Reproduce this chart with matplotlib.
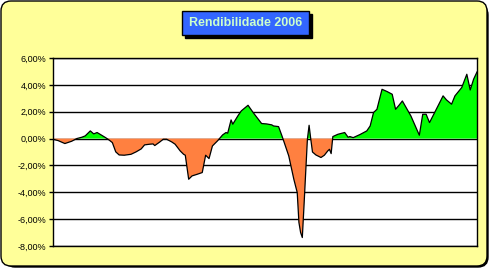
import matplotlib
import matplotlib.pyplot as plt
from matplotlib.patches import FancyBboxPatch, Rectangle
from matplotlib.ticker import FuncFormatter
matplotlib.use('Agg')

# trading day index and accumulated return (%)
days = [0, 3, 7, 11, 14, 17, 19, 22, 24, 26, 28, 31, 33, 35, 37, 39, 42, 46,
        49, 52, 54, 57, 59, 60, 63, 65, 67, 70, 72, 75, 77, 78, 80, 82, 85,
        88, 90, 92, 94, 97, 100, 102, 103, 105, 106, 109, 111, 115, 118, 123,
        126, 129, 130, 133, 135, 136, 139, 142, 144, 145, 146, 147, 148, 149,
        150, 151, 152, 153, 155, 158, 160, 162, 163, 164, 165, 168, 172, 174,
        175, 177, 181, 185, 187, 189, 191, 194, 197, 200, 202, 204, 206, 211,
        216, 218, 220, 222, 227, 230, 232, 235, 237, 241, 244, 246, 248, 250]
rent = [-0.05, -0.15, -0.37, -0.20, 0.00, 0.10, 0.20, 0.57, 0.35, 0.45, 0.30,
        0.07, -0.10, -0.30, -0.99, -1.22, -1.24, -1.17, -0.99, -0.77, -0.47,
        -0.42, -0.40, -0.52, -0.25, -0.05, -0.05, -0.25, -0.42, -0.92, -1.17,
        -1.24, -3.03, -2.78, -2.66, -2.53, -1.24, -1.49, -0.55, -0.17, 0.27,
        0.45, 0.40, 1.39, 1.07, 1.69, 2.06, 2.48, 1.94, 1.12, 1.09, 1.02, 0.94,
        0.89, 0.20, -0.17, -1.29, -3.03, -4.02, -6.25, -7.00, -7.37, -5.00,
        -2.50, -0.05, 0.99, -0.05, -1.00, -1.22, -1.41, -1.24, -0.92, -0.80,
        -1.12, 0.15, 0.32, 0.45, 0.10, 0.15, 0.07, 0.30, 0.57, 0.94, 1.94,
        2.18, 3.67, 3.50, 3.30, 2.18, 2.48, 2.80, 1.69, 0.25, 1.81, 1.81, 1.19,
        2.43, 3.18, 2.88, 2.56, 3.18, 3.80, 4.79, 3.62, 4.42, 4.96]
y_ticks = [-8, -6, -4, -2, 0, 2, 4, 6]
title = "Rendibilidade 2006"

W, H = 493, 272
fig = plt.figure(figsize=(W / 100, H / 100), dpi=100)
fig.patch.set_facecolor('white')

# background frame drawn in pixel coordinates
bg = fig.add_axes([0, 0, 1, 1])
bg.set_xlim(0, W)
bg.set_ylim(H, 0)
bg.axis('off')
bg.add_patch(FancyBboxPatch((5, 5), W - 10, H - 10,
                            boxstyle="round,pad=0,rounding_size=10",
                            facecolor='black', edgecolor='black', lw=1))
bg.add_patch(FancyBboxPatch((1, 1), W - 7, H - 7,
                            boxstyle="round,pad=0,rounding_size=10",
                            facecolor='#FFFF99', edgecolor='black', lw=1))

# title box with shadow
bg.add_patch(Rectangle((185, 14), 127, 24, facecolor='black', edgecolor='black'))
bg.add_patch(Rectangle((182, 11), 127, 24, facecolor='#3366FF', edgecolor='black', lw=1))
bg.text(245.5, 23, title, ha='center', va='center', color='#CCFFCC',
        fontsize=9, fontweight='bold', family='Liberation Sans')

ax = fig.add_axes([53 / W, 1 - 246 / H, 424 / W, 188 / H])
ax.set_facecolor('white')
ax.fill_between(days, rent, 0, where=[v >= 0 for v in rent], interpolate=True,
                color='#00FF00', lw=0)
ax.fill_between(days, rent, 0, where=[v <= 0 for v in rent], interpolate=True,
                color='#FF8040', lw=0)
ax.plot(days, rent, color='black', lw=0.9)

ax.set_xlim(min(days), max(days))
ax.set_ylim(-8, 6)
ax.set_yticks(y_ticks)
ax.yaxis.set_major_formatter(FuncFormatter(lambda v, p: f"{v:.2f}%".replace('.', ',')))
for t in y_ticks:
    ax.axhline(t, color='black', lw=1, zorder=0.5)
ax.set_xticks([])
ax.tick_params(axis='y', length=3, width=1, labelsize=6.5, pad=2)
for lab in ax.get_yticklabels():
    lab.set_family('Liberation Sans')
for s in ax.spines.values():
    s.set_linewidth(1)

fig.savefig('out.png', dpi=100)
